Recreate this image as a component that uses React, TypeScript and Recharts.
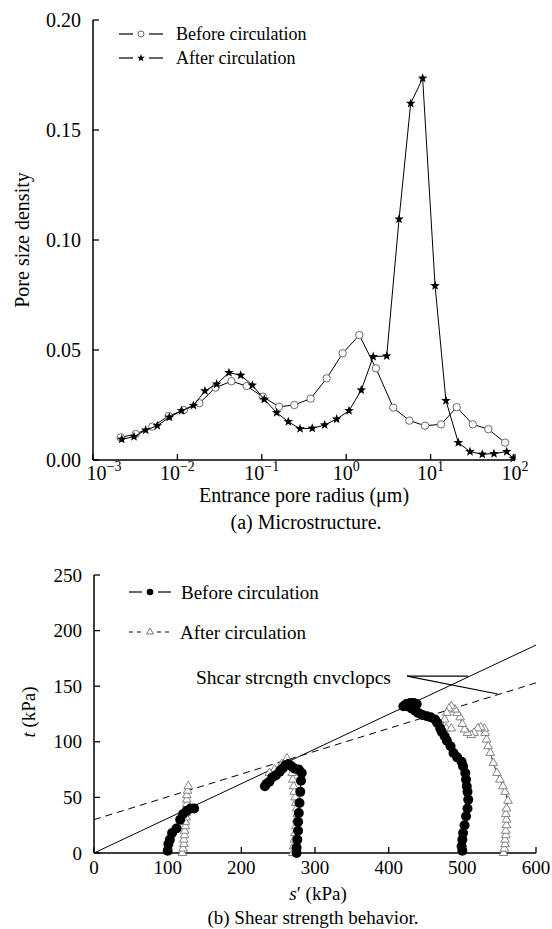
import React from 'react';
import { ScatterChart, Scatter, XAxis, YAxis } from 'recharts';

const FONT = '"Liberation Serif", "Times New Roman", Times, serif';

// (a) pore size density vs entrance pore radius (um)
const beforeRadius = [0.00213, 0.00321, 0.00505, 0.00789, 0.0119, 0.0182, 0.0282, 0.0437, 0.0662, 0.1026, 0.16, 0.243, 0.379, 0.587, 0.908, 1.43, 2.25, 3.61, 5.6, 8.59, 13.3, 20.4, 31.6, 48.3, 76.2];
const beforeDensity = [0.0103, 0.0118, 0.0152, 0.02, 0.0227, 0.0258, 0.0329, 0.0358, 0.0336, 0.0288, 0.0242, 0.025, 0.0279, 0.0371, 0.0485, 0.0568, 0.0417, 0.0238, 0.0179, 0.0156, 0.0162, 0.024, 0.0162, 0.014, 0.0079];
const afterRadius = [0.00219, 0.00306, 0.00421, 0.00578, 0.00802, 0.0112, 0.0155, 0.0212, 0.0292, 0.0408, 0.0562, 0.0773, 0.107, 0.15, 0.206, 0.284, 0.396, 0.556, 0.771, 1.08, 1.51, 2.09, 3.02, 4.23, 5.81, 8.05, 11.3, 15.2, 21.3, 29.3, 41.0, 56.4, 79.8, 95.5];
const afterDensity = [0.0094, 0.0106, 0.0136, 0.0156, 0.0194, 0.0224, 0.0248, 0.0314, 0.0345, 0.0397, 0.0385, 0.034, 0.0276, 0.0215, 0.0174, 0.0142, 0.0144, 0.0159, 0.0186, 0.0224, 0.0318, 0.047, 0.0473, 0.1095, 0.1621, 0.1735, 0.0792, 0.027, 0.0079, 0.0038, 0.0026, 0.0029, 0.0038, 0.0008];
const radiusTicks = [0.001, 0.01, 0.1, 1, 10, 100];
const densityTicks = [0, 0.05, 0.1, 0.15, 0.2];

// (b) stress paths, [s', t] in kPa
const beforePath1 = [[100, 2], [101, 8], [103, 12], [106, 18], [112, 22], [117, 30], [121, 35], [126, 38], [131, 40], [136, 40]];
const beforePath2 = [[275, 0], [275, 5], [276, 12], [277, 20], [277, 28], [278, 36], [279, 45], [280, 55], [281, 65], [282, 72], [278, 75], [272, 76], [268, 78], [264, 80], [260, 79], [256, 76], [252, 73], [247, 70], [242, 68], [238, 64], [234, 62], [232, 60]];
const beforePath3 = [[500, 2], [499, 6], [500, 12], [501, 18], [503, 25], [505, 33], [507, 40], [508, 48], [507, 55], [506, 60], [505, 66], [504, 72], [501, 78], [499, 82], [493, 86], [488, 90], [484, 96], [479, 101], [476, 105], [472, 109], [470, 112], [466, 117], [463, 120], [457, 122], [452, 123], [446, 124], [440, 126], [436, 128], [431, 130], [425, 132], [420, 132], [424, 134], [429, 135], [434, 135], [438, 134]];
const afterPath1 = [[120, 0], [121, 4], [122, 8], [122, 12], [123, 16], [123, 20], [124, 24], [124, 28], [125, 32], [125, 36], [125, 40], [126, 44], [126, 48], [126, 52], [127, 56], [128, 60]];
const afterPath2 = [[270, 0], [271, 6], [272, 12], [273, 18], [274, 24], [275, 30], [276, 35], [275, 40], [274, 45], [273, 50], [272, 55], [271, 60], [270, 66], [269, 72], [266, 78], [262, 85], [255, 80], [245, 75], [238, 72]];
const afterPath3 = [[556, 0], [557, 4], [558, 8], [558, 12], [559, 16], [559, 20], [560, 25], [560, 30], [559, 35], [560, 40], [562, 47], [558, 55], [555, 60], [551, 66], [547, 72], [542, 81], [538, 90], [535, 96], [533, 102], [531, 108], [530, 112], [525, 113], [521, 112], [516, 108], [512, 106], [507, 108], [503, 111], [500, 116], [497, 122], [493, 126], [490, 129], [485, 132], [482, 130], [479, 126], [476, 120], [472, 114], [478, 112], [485, 112]];
const envelopeBefore = [[0, 0], [600, 187]];
const envelopeAfter = [[0, 30], [600, 153]];
const leader1 = [[425, 159], [508, 159]];
const leader2 = [[425, 159], [548, 143]];
const sTicks = [0, 100, 200, 300, 400, 500, 600];
const tTicks = [0, 50, 100, 150, 200, 250];

const toXY = (xs: number[], ys: number[]) => xs.map((x, i) => ({ x, y: ys[i] }));
const pairs = (arr: number[][]) => arr.map(([x, y]) => ({ x, y }));

const starPath = (cx: number, cy: number, R: number) => {
  const r = R * 0.42;
  let d = '';
  for (let i = 0; i < 10; i++) {
    const a = -Math.PI / 2 + (i * Math.PI) / 5;
    const rr = i % 2 ? r : R;
    d += (i ? 'L' : 'M') + (cx + rr * Math.cos(a)).toFixed(2) + ',' + (cy + rr * Math.sin(a)).toFixed(2);
  }
  return d + 'Z';
};
const triPath = (cx: number, cy: number, R: number) =>
  `M${cx},${cy - R}L${cx + R * 0.87},${cy + R * 0.5}L${cx - R * 0.87},${cy + R * 0.5}Z`;

const OpenCircle = (p: any) => <circle cx={p.cx} cy={p.cy} r={3.7} fill="#fff" stroke="#6a6a6a" strokeWidth={1} />;
const Star = (p: any) => <path d={starPath(p.cx, p.cy, 5)} fill="#000" />;
const Dot = (p: any) => <circle cx={p.cx} cy={p.cy} r={5} fill="#000" />;
const Tri = (p: any) => <path d={triPath(p.cx, p.cy, 5)} fill="#fff" stroke="#777" strokeWidth={0.9} />;
const Nothing = () => <g />;

const LogTick = (props: any) => {
  const { x, y, payload } = props;
  const e = Math.round(Math.log10(payload.value));
  // first label sits a little right of the corner, as in the source figure
  const dx = e === -3 ? 11 : 0;
  return (
    <text x={x + dx} y={y + 20} textAnchor="middle" fontFamily={FONT} fontSize={20} fill="#000">
      <tspan>10</tspan>
      <tspan dy={-9} fontSize={14}>{e < 0 ? '\u2212' + -e : String(e)}</tspan>
    </text>
  );
};
const LeftTick = (props: any) => {
  const { x, y, payload, digits, size } = props;
  return (
    <text x={x - 12} y={y} dy="0.35em" textAnchor="end" fontFamily={FONT} fontSize={size} fill="#000">
      {digits ? payload.value.toFixed(digits) : payload.value}
    </text>
  );
};
const BottomTick = (props: any) => {
  const { x, y, payload } = props;
  return (
    <text x={x} y={y + 21} textAnchor="middle" fontFamily={FONT} fontSize={19} fill="#000">
      {payload.value}
    </text>
  );
};

const axisLine = { stroke: '#000', strokeWidth: 1.5 };
const tickLine = { stroke: '#000', strokeWidth: 1.3 };

const Txt = ({ x, y, size, children, rotate, anchor }: any) => (
  <div
    style={{
      position: 'absolute',
      left: x,
      top: y,
      fontFamily: FONT,
      fontSize: size,
      lineHeight: 1,
      whiteSpace: 'nowrap',
      color: '#000',
      transform: rotate
        ? 'translate(-50%,-50%) rotate(-90deg)'
        : anchor === 'start'
        ? 'translate(0,-50%)'
        : 'translate(-50%,-50%)',
    }}
  >
    {children}
  </div>
);

export default function App() {
  return (
    <div style={{ position: 'absolute', left: 0, top: 0, width: 552, height: 929, background: '#fff', overflow: 'hidden', fontFamily: FONT }}>
      {/* (a) microstructure */}
      <div style={{ position: 'absolute', left: 0, top: 0 }}>
        <ScatterChart width={552} height={530} margin={{ top: 20, right: 37, bottom: 30, left: 33 }}>
          <XAxis
            type="number"
            dataKey="x"
            scale="log"
            domain={[0.001, 100]}
            ticks={radiusTicks}
            allowDataOverflow
            axisLine={axisLine}
            tickLine={tickLine}
            tickSize={-6}
            tickMargin={6}
            tick={(p: any) => <LogTick {...p} />}
            height={40}
          />
          <YAxis
            type="number"
            dataKey="y"
            domain={[0, 0.2]}
            ticks={densityTicks}
            axisLine={axisLine}
            tickLine={tickLine}
            tickSize={-6}
            tickMargin={6}
            tick={(p: any) => <LeftTick {...p} digits={2} size={20} />}
            width={60}
          />
          <Scatter data={toXY(beforeRadius, beforeDensity)} line={{ stroke: '#000', strokeWidth: 1 }} shape={OpenCircle} isAnimationActive={false} />
          <Scatter data={toXY(afterRadius, afterDensity)} line={{ stroke: '#000', strokeWidth: 1 }} shape={Star} isAnimationActive={false} />
        </ScatterChart>
      </div>

      {/* (b) shear strength */}
      <div style={{ position: 'absolute', left: 0, top: 540 }}>
        <ScatterChart width={552} height={389} margin={{ top: 35, right: 16, bottom: 36, left: 34 }}>
          <XAxis
            type="number"
            dataKey="x"
            domain={[0, 600]}
            ticks={sTicks}
            axisLine={axisLine}
            tickLine={tickLine}
            tickSize={-6}
            tickMargin={6}
            tick={(p: any) => <BottomTick {...p} />}
            height={40}
          />
          <YAxis
            type="number"
            dataKey="y"
            domain={[0, 250]}
            ticks={tTicks}
            axisLine={axisLine}
            tickLine={tickLine}
            tickSize={-6}
            tickMargin={6}
            tick={(p: any) => <LeftTick {...p} size={19} />}
            width={60}
          />
          <Scatter data={pairs(envelopeBefore)} line={{ stroke: '#000', strokeWidth: 1 }} shape={Nothing} isAnimationActive={false} />
          <Scatter data={pairs(envelopeAfter)} line={{ stroke: '#000', strokeWidth: 1, strokeDasharray: '7 5' }} shape={Nothing} isAnimationActive={false} />
          <Scatter data={pairs(leader1)} line={{ stroke: '#000', strokeWidth: 1.2 }} shape={Nothing} isAnimationActive={false} />
          <Scatter data={pairs(leader2)} line={{ stroke: '#000', strokeWidth: 1.2 }} shape={Nothing} isAnimationActive={false} />
          <Scatter data={pairs(afterPath1)} line={{ stroke: '#000', strokeWidth: 0.8 }} shape={Tri} isAnimationActive={false} />
          <Scatter data={pairs(afterPath2)} line={{ stroke: '#000', strokeWidth: 0.8 }} shape={Tri} isAnimationActive={false} />
          <Scatter data={pairs(afterPath3)} line={{ stroke: '#000', strokeWidth: 0.8 }} shape={Tri} isAnimationActive={false} />
          <Scatter data={pairs(beforePath1)} line={{ stroke: '#000', strokeWidth: 1 }} shape={Dot} isAnimationActive={false} />
          <Scatter data={pairs(beforePath2)} line={{ stroke: '#000', strokeWidth: 1 }} shape={Dot} isAnimationActive={false} />
          <Scatter data={pairs(beforePath3)} line={{ stroke: '#000', strokeWidth: 1 }} shape={Dot} isAnimationActive={false} />
        </ScatterChart>
      </div>

      {/* legend symbols */}
      <svg width={552} height={929} style={{ position: 'absolute', left: 0, top: 0, pointerEvents: 'none' }}>
        <line x1={119} y1={34} x2={133} y2={34} stroke="#000" strokeWidth={1.2} />
        <circle cx={141} cy={34} r={3} fill="#fff" stroke="#6a6a6a" />
        <line x1={149} y1={34} x2={163} y2={34} stroke="#000" strokeWidth={1.2} />
        <line x1={119} y1={58} x2={133} y2={58} stroke="#000" strokeWidth={1.2} />
        <path d={starPath(141, 58, 4)} fill="#000" />
        <line x1={149} y1={58} x2={163} y2={58} stroke="#000" strokeWidth={1.2} />

        <line x1={129} y1={592} x2={142} y2={592} stroke="#000" strokeWidth={1.2} />
        <circle cx={150} cy={592} r={3.3} fill="#000" />
        <line x1={158} y1={592} x2={171} y2={592} stroke="#000" strokeWidth={1.2} />
        <line x1={129} y1={632} x2={143} y2={632} stroke="#000" strokeWidth={1.2} strokeDasharray="4 4" />
        <path d={triPath(150, 632, 4)} fill="#fff" stroke="#777" />
        <line x1={157} y1={632} x2={172} y2={632} stroke="#000" strokeWidth={1.2} strokeDasharray="4 4" />
      </svg>

      <Txt x={176} y={34} size={18} anchor="start">Before circulation</Txt>
      <Txt x={176} y={58} size={18} anchor="start">After circulation</Txt>
      <Txt x={22} y={240} size={20} rotate>Pore size density</Txt>
      <Txt x={304} y={495} size={20}>Entrance pore radius (μm)</Txt>
      <Txt x={306} y={522} size={20}>(a) Microstructure.</Txt>

      <Txt x={181} y={592} size={19} anchor="start">Before circulation</Txt>
      <Txt x={180} y={632} size={19} anchor="start">After circulation</Txt>
      <Txt x={196} y={678} size={19.5} anchor="start">Shcar strcngth cnvclopcs</Txt>
      <Txt x={28} y={712} size={19} rotate><i>t</i> (kPa)</Txt>
      <Txt x={318} y={893} size={19}><i>s</i>′ (kPa)</Txt>
      <Txt x={313} y={917} size={19}>(b) Shear strength behavior.</Txt>
    </div>
  );
}
